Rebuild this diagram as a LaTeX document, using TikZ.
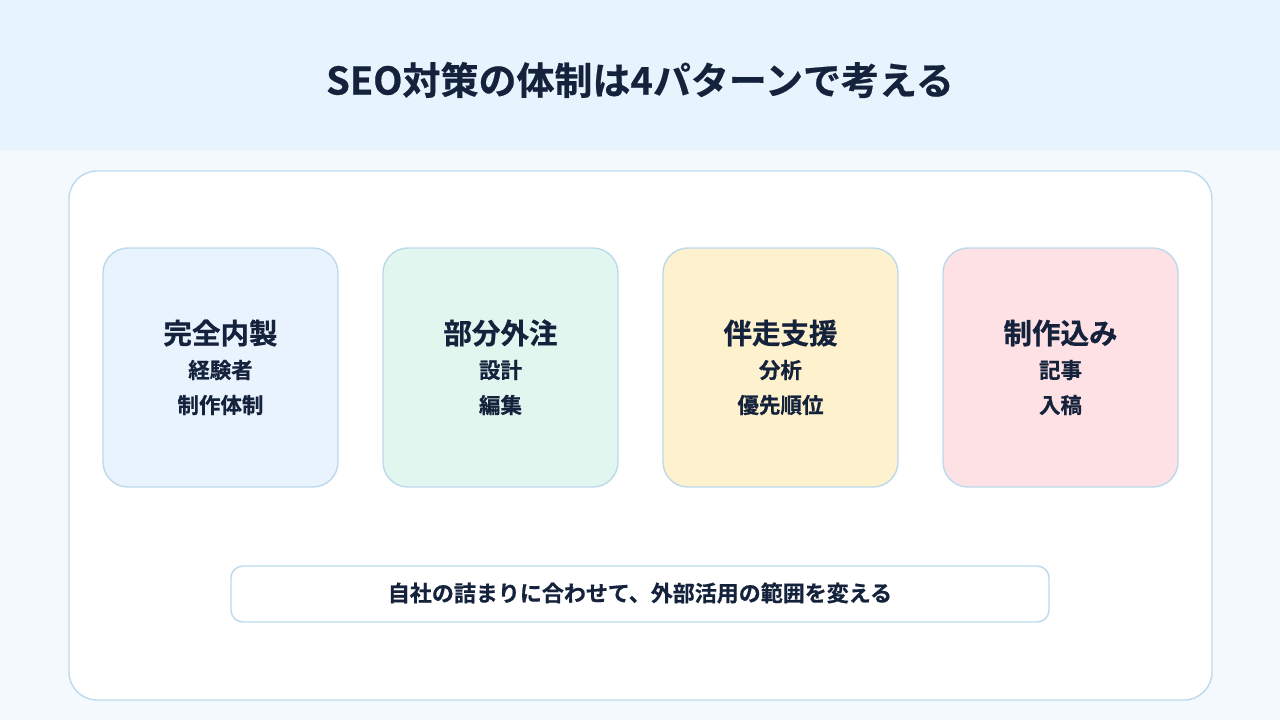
\documentclass[tikz,border=0pt]{standalone}
\usepackage{fontspec}
\setmainfont{Noto Sans CJK JP Bold}
\newfontfamily\jpb[FakeBold=0.6]{Noto Sans CJK JP Bold}
\definecolor{hdr}{HTML}{E8F4FD}
\definecolor{bgc}{HTML}{F4F9FD}
\definecolor{brd}{HTML}{BDD9EC}
\definecolor{ink}{HTML}{14223C}
\definecolor{cblue}{HTML}{E8F3FD}
\definecolor{cgreen}{HTML}{E0F6EF}
\definecolor{cyellow}{HTML}{FEF1CD}
\definecolor{cpink}{HTML}{FEE1E5}
\tikzset{
  card/.style={draw=brd, line width=1.4pt, rounded corners=25pt, minimum width=235pt, minimum height=239pt, inner sep=0pt},
  cardtitle/.style={text=ink, font=\jpb\fontsize{28.5}{30}\selectfont, inner sep=0pt},
  cardsub/.style={text=ink, font=\jpb\fontsize{21.5}{24}\selectfont, inner sep=0pt},
}
\begin{document}
\begin{tikzpicture}[x=1pt,y=-1pt]
\useasboundingbox (0,0) rectangle (1280,720);
\fill[bgc] (0,0) rectangle (1280,720);
\fill[hdr] (0,0) rectangle (1280,150);
\node[text=ink, font=\jpb\fontsize{38}{42}\selectfont, inner sep=0pt] (title) at (640,80) {SEO対策の体制は4パターンで考える};
\node[draw=brd, fill=white, line width=1.4pt, rounded corners=28pt, minimum width=1143pt, minimum height=529pt, inner sep=0pt] (panel) at (640.5,435.5) {};
% cards
\node[card, fill=cblue] (c1) at (220.5,367.5) {};
\node[card, fill=cgreen] (c2) at (500.5,367.5) {};
\node[card, fill=cyellow] (c3) at (780.5,367.5) {};
\node[card, fill=cpink] (c4) at (1060.5,367.5) {};
\node[cardtitle] (t1) at (220.5,333) {完全内製};
\node[cardsub] (s1a) at (220.5,370) {経験者};
\node[cardsub] (s1b) at (220.5,405) {制作体制};
\node[cardtitle] (t2) at (500.5,333) {部分外注};
\node[cardsub] (s2a) at (500.5,370) {設計};
\node[cardsub] (s2b) at (500.5,405) {編集};
\node[cardtitle] (t3) at (780.5,333) {伴走支援};
\node[cardsub] (s3a) at (780.5,370) {分析};
\node[cardsub] (s3b) at (780.5,405) {優先順位};
\node[cardtitle] (t4) at (1060.5,333) {制作込み};
\node[cardsub] (s4a) at (1060.5,370) {記事};
\node[cardsub] (s4b) at (1060.5,405) {入稿};
% bottom note
\node[draw=brd, fill=white, line width=1.4pt, rounded corners=12pt, minimum width=818pt, minimum height=56pt, inner sep=0pt] (note) at (640,594) {};
\node[text=ink, font=\jpb\fontsize{22}{24}\selectfont, inner sep=0pt] (notetext) at (640,593) {自社の詰まりに合わせて、外部活用の範囲を変える};
\end{tikzpicture}
\end{document}
